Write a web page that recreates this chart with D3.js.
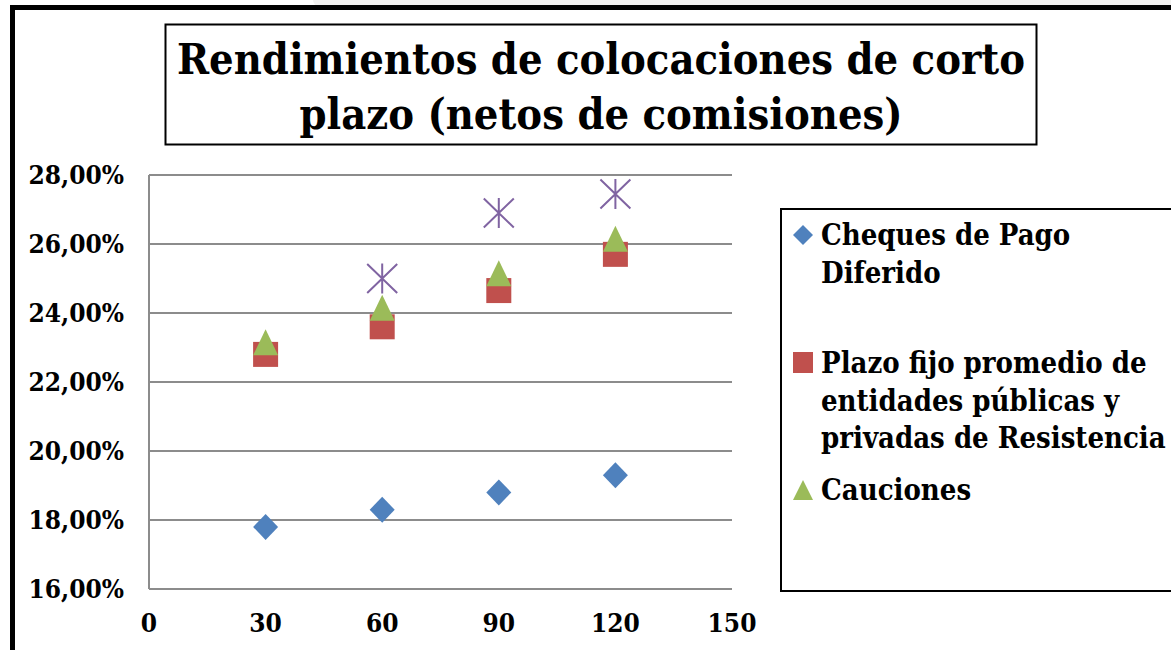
<!DOCTYPE html>
<meta charset="utf-8">
<head>
  <title>Rendimientos de colocaciones de corto plazo</title>
  <style>
    body { margin: 0; background: #fff; }
    svg text { font-family: "DejaVu Serif Condensed", "DejaVu Serif", serif; font-weight: bold; fill: #000; }
  </style>
</head>
<body>
  <svg id="viz" width="1171" height="650"></svg>
  <script src="https://d3js.org/d3.v7.min.js"></script>
  <script>
    // plazos en dias
    var plazos = [30, 60, 90, 120];
    // rendimientos en %
    var cheques = [17.8, 18.3, 18.8, 19.3];
    var plazoFijo = [22.8, 23.6, 24.65, 25.7];
    var cauciones = [23.15, 24.15, 25.15, 26.15];
    var otraSerie = [null, 25.0, 26.9, 27.45];

    var titulo = ["Rendimientos de colocaciones de corto", "plazo (netos de comisiones)"];
    var yTicks = [16, 18, 20, 22, 24, 26, 28];
    var xTicks = [0, 30, 60, 90, 120, 150];
    var leyenda = [
      { lines: ["Cheques de Pago", "Diferido"], shape: "diamond", color: "#4f81bd" },
      { lines: ["Plazo fijo promedio de", "entidades públicas y", "privadas de Resistencia"], shape: "square", color: "#c0504d" },
      { lines: ["Cauciones"], shape: "triangle", color: "#9bbb59" }
    ];

    var svg = d3.select("#viz");

    var x = d3.scaleLinear().domain([0, 150]).range([149, 732]);
    var y = d3.scaleLinear().domain([16, 28]).range([589, 175]);

    // strip above the frame
    svg.append("rect").attr("x", 313).attr("y", -10).attr("width", 900).attr("height", 16)
      .attr("rx", 6).attr("fill", "#f2f1f0");

    // outer frame
    svg.append("path").attr("d", "M12.5,660 V7.5 H1180")
      .attr("fill", "none").attr("stroke", "#000").attr("stroke-width", 5);

    // title box
    svg.append("rect").attr("x", 165.5).attr("y", 24.5).attr("width", 871).attr("height", 120)
      .attr("fill", "#fff").attr("stroke", "#000").attr("stroke-width", 2);
    svg.append("g").selectAll("text").data(titulo).join("text")
      .attr("x", 601).attr("y", (d, i) => 74 + i * 55)
      .attr("text-anchor", "middle").style("font-size", "43px")
      .text(d => d);

    // grid
    svg.append("g").selectAll("line").data(yTicks).join("line")
      .attr("x1", x(0)).attr("x2", x(150))
      .attr("y1", d => y(d)).attr("y2", d => y(d))
      .attr("stroke", "#8c8c8c").attr("stroke-width", 2);
    svg.append("line").attr("x1", x(0)).attr("x2", x(0)).attr("y1", y(28)).attr("y2", y(16))
      .attr("stroke", "#8c8c8c").attr("stroke-width", 2);

    // axis labels
    svg.append("g").selectAll("text").data(yTicks).join("text")
      .attr("x", 124).attr("y", d => y(d) + 9)
      .attr("text-anchor", "end").style("font-size", "26px")
      .text(d => d3.format(".2f")(d).replace(".", ",") + "%");
    svg.append("g").selectAll("text").data(xTicks).join("text")
      .attr("x", d => x(d)).attr("y", 632)
      .attr("text-anchor", "middle").style("font-size", "26px")
      .text(d => d);

    function pts(vals) {
      return plazos.map((p, i) => ({ p: p, v: vals[i] })).filter(d => d.v != null);
    }

    // series markers
    svg.append("g").selectAll("path").data(pts(cheques)).join("path")
      .attr("d", "M0,-13 L12.5,0 L0,13 L-12.5,0 Z")
      .attr("transform", d => `translate(${x(d.p)},${y(d.v)})`)
      .attr("fill", "#4f81bd");
    svg.append("g").selectAll("rect").data(pts(plazoFijo)).join("rect")
      .attr("x", d => x(d.p) - 12.5).attr("y", d => y(d.v) - 12.5)
      .attr("width", 25).attr("height", 25)
      .attr("fill", "#c0504d");
    svg.append("g").selectAll("path").data(pts(cauciones)).join("path")
      .attr("d", "M0,-13 L12.5,13 L-12.5,13 Z")
      .attr("transform", d => `translate(${x(d.p)},${y(d.v)})`)
      .attr("fill", "#9bbb59");
    svg.append("g").selectAll("path").data(pts(otraSerie)).join("path")
      .attr("d", "M-15,-14.5 L15,14.5 M15,-14.5 L-15,14.5 M0,-15 V15")
      .attr("transform", d => `translate(${x(d.p)},${y(d.v)})`)
      .attr("fill", "none").attr("stroke", "#8064a2").attr("stroke-width", 2);

    // legend
    svg.append("rect").attr("x", 781).attr("y", 209).attr("width", 420).attr("height", 382)
      .attr("fill", "#fff").attr("stroke", "#000").attr("stroke-width", 2);

    var tops = [245, 373, 500];
    var lg = svg.append("g").selectAll("g").data(leyenda).join("g")
      .attr("transform", (d, i) => `translate(0,${tops[i]})`);
    lg.each(function (d) {
      var g = d3.select(this);
      if (d.shape === "diamond") {
        g.append("path").attr("d", "M803,-20 L813,-10 L803,0 L793,-10 Z").attr("fill", d.color);
      } else if (d.shape === "square") {
        g.append("rect").attr("x", 793).attr("y", -21).attr("width", 20).attr("height", 21).attr("fill", d.color);
      } else {
        g.append("path").attr("d", "M803,-20 L813,0 L793,0 Z").attr("fill", d.color);
      }
      g.selectAll("text").data(d.lines).join("text")
        .attr("x", 821).attr("y", (t, j) => j * 37.5)
        .style("font-size", "29px")
        .text(t => t);
    });
  </script>
</body>
</html>
